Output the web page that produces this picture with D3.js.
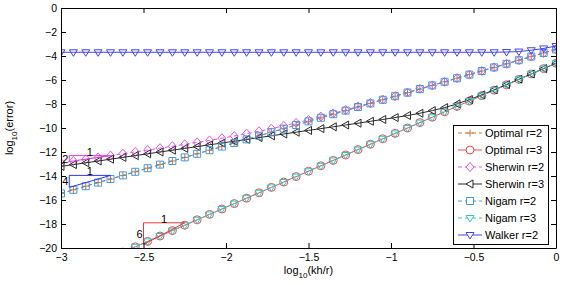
<!DOCTYPE html>
<html>
<head>
<meta charset="utf-8">
<script src="https://cdn.jsdelivr.net/npm/d3@7"></script>
<style>
  body { margin: 0; background: #fff; }
  svg { display: block; font-family: "Liberation Sans", Arial, sans-serif; }
</style>
</head>
<body>
<div id="chart"></div>
<script>
// Data (log10 scale)
const xValues = [-3, -2.925, -2.85, -2.775, -2.7, -2.625, -2.55, -2.475, -2.4, -2.325, -2.25, -2.175, -2.1, -2.025,
  -1.95, -1.875, -1.8, -1.725, -1.65, -1.575, -1.5, -1.425, -1.35, -1.275, -1.2, -1.125, -1.05, -0.975,
  -0.9, -0.825, -0.75, -0.675, -0.6, -0.525, -0.45, -0.375, -0.3, -0.225, -0.15, -0.075, 0];

const optimalR2 = [-15.45, -15.15, -14.85, -14.55, -14.25, -13.95, -13.65, -13.35, -13.05, -12.75, -12.45, -12.15,
  -11.85, -11.55, -11.25, -10.95, -10.65, -10.35, -10.05, -9.75, -9.45, -9.15, -8.85, -8.55, -8.25, -7.95,
  -7.65, -7.35, -7.05, -6.75, -6.45, -6.15, -5.85, -5.55, -5.25, -4.95, -4.65, -4.35, -4.05, -3.75, -3.45];

const optimalR3 = [-22.60, -22.15, -21.70, -21.25, -20.80, -20.35, -19.90, -19.45, -19.00, -18.55, -18.10, -17.65,
  -17.20, -16.75, -16.30, -15.85, -15.40, -14.95, -14.50, -14.05, -13.60, -13.15, -12.70, -12.25, -11.80, -11.35,
  -10.90, -10.45, -10.00, -9.55, -9.10, -8.65, -8.20, -7.75, -7.30, -6.85, -6.40, -5.95, -5.50, -5.05, -4.60];

const sherwinR2 = [-12.90, -12.75, -12.60, -12.45, -12.30, -12.14, -11.99, -11.84, -11.68, -11.52, -11.36, -11.20,
  -11.03, -10.85, -10.67, -10.47, -10.27, -10.05, -9.82, -9.57, -9.32, -9.05, -8.78, -8.50, -8.21, -7.92,
  -7.63, -7.34, -7.04, -6.74, -6.45, -6.15, -5.85, -5.55, -5.25, -4.95, -4.65, -4.35, -4.05, -3.75, -3.45];

const sherwinR3 = [-13.20, -13.05, -12.90, -12.75, -12.60, -12.45, -12.30, -12.15, -12.00, -11.85, -11.70, -11.55,
  -11.40, -11.25, -11.10, -10.95, -10.80, -10.65, -10.50, -10.35, -10.20, -10.05, -9.90, -9.75, -9.60, -9.44,
  -9.29, -9.13, -8.96, -8.77, -8.55, -8.30, -7.99, -7.63, -7.24, -6.82, -6.38, -5.94, -5.50, -5.05, -4.60];

const nigamR2 = [-15.45, -15.15, -14.85, -14.55, -14.25, -13.95, -13.65, -13.35, -13.05, -12.75, -12.45, -12.15,
  -11.85, -11.55, -11.25, -10.95, -10.65, -10.35, -10.05, -9.75, -9.45, -9.15, -8.85, -8.55, -8.25, -7.95,
  -7.65, -7.35, -7.05, -6.75, -6.45, -6.15, -5.85, -5.55, -5.25, -4.95, -4.65, -4.35, -4.05, -3.75, -3.45];

const nigamR3 = [-22.60, -22.15, -21.70, -21.25, -20.80, -20.35, -19.90, -19.45, -19.00, -18.55, -18.10, -17.65,
  -17.20, -16.75, -16.30, -15.85, -15.40, -14.95, -14.50, -14.05, -13.60, -13.15, -12.70, -12.25, -11.80, -11.35,
  -10.90, -10.45, -10.00, -9.55, -9.10, -8.65, -8.20, -7.75, -7.30, -6.85, -6.40, -5.95, -5.50, -5.05, -4.60];

const walkerR2 = [-3.69, -3.69, -3.69, -3.69, -3.69, -3.69, -3.69, -3.69, -3.69, -3.69, -3.69, -3.69,
  -3.69, -3.69, -3.69, -3.69, -3.69, -3.69, -3.69, -3.69, -3.69, -3.69, -3.69, -3.69, -3.69, -3.69,
  -3.69, -3.69, -3.69, -3.69, -3.69, -3.69, -3.69, -3.69, -3.69, -3.69, -3.67, -3.63, -3.52, -3.37, -3.17];

const xTicks = [-3, -2.5, -2, -1.5, -1, -0.5, 0];
const xTickLabels = ["\u22123", "\u22122.5", "\u22122", "\u22121.5", "\u22121", "\u22120.5", "0"];
const yTicks = [0, -2, -4, -6, -8, -10, -12, -14, -16, -18, -20];

// slope triangles: horizontal run x0..x1, vertical rise y0..y1, label of the rise
const slopeTriangles = [
  { x0: -2.95, x1: -2.7, y0: -12.8, y1: -12.3, rise: "2", color: "#e040e0" },
  { x0: -2.95, x1: -2.7, y0: -14.95, y1: -13.95, rise: "4", color: "#3434e8" },
  { x0: -2.5, x1: -2.25, y0: -19.7, y1: -17.9, rise: "6", color: "#e83838" }
];

const series = [
  { name: "Optimal r=2", values: optimalR2, color: "#cf7638", dash: "4,3", marker: "plus" },
  { name: "Optimal r=3", values: optimalR3, color: "#f04a4a", dash: null, marker: "circle" },
  { name: "Sherwin r=2", values: sherwinR2, color: "#e255e6", dash: "4,3", marker: "diamond" },
  { name: "Sherwin r=3", values: sherwinR3, color: "#2a2a2a", dash: null, marker: "triangleLeft" },
  { name: "Nigam r=2", values: nigamR2, color: "#4698dc", dash: "4,3", marker: "square" },
  { name: "Nigam r=3", values: nigamR3, color: "#38c4c4", dash: "4,3", marker: "triangleDown" },
  { name: "Walker r=2", values: walkerR2, color: "#4444f0", dash: null, marker: "triangleDown" }
];

function markerPath(type) {
  switch (type) {
    case "plus": return "M-3.5,0H3.5M0,-3.5V3.5";
    case "circle": return "M4,0A4,4 0 1,1 -4,0A4,4 0 1,1 4,0Z";
    case "diamond": return "M0,-4.5L4,0L0,4.5L-4,0Z";
    case "triangleLeft": return "M-4,0L3,-4L3,4Z";
    case "square": return "M-3.5,-3.5H3.5V3.5H-3.5Z";
    case "triangleDown": return "M-4,-2.5H4L0,4Z";
  }
}

const W = 566, H = 285;
const plotLeft = 61, plotRight = 556, plotTop = 8, plotBottom = 248;

const svg = d3.select("#chart").append("svg")
  .attr("width", W)
  .attr("height", H);

const x = d3.scaleLinear().domain([-3, 0]).range([plotLeft, plotRight]);
const y = d3.scaleLinear().domain([-20, 0]).range([plotBottom, plotTop]);

svg.append("defs").append("clipPath")
  .attr("id", "plot-clip")
  .append("rect")
  .attr("x", plotLeft).attr("y", plotTop)
  .attr("width", plotRight - plotLeft).attr("height", plotBottom - plotTop);

const plot = svg.append("g").attr("clip-path", "url(#plot-clip)");

const line = d3.line()
  .x((d, i) => x(xValues[i]))
  .y(d => y(d));

series.forEach(s => {
  plot.append("path")
    .datum(s.values)
    .attr("d", line)
    .attr("fill", "none")
    .attr("stroke", s.color)
    .attr("stroke-width", 1)
    .attr("stroke-dasharray", s.dash);

  plot.selectAll(null)
    .data(s.values)
    .enter().append("path")
    .attr("transform", (d, i) => `translate(${x(xValues[i])},${y(d)})`)
    .attr("d", markerPath(s.marker))
    .attr("fill", "none")
    .attr("stroke", s.color)
    .attr("stroke-width", 1);
});

// Slope triangles
slopeTriangles.forEach(t => {
  svg.append("path")
    .attr("d", `M${x(t.x0)},${y(t.y0)}L${x(t.x0)},${y(t.y1)}L${x(t.x1)},${y(t.y1)}Z`)
    .attr("fill", "none")
    .attr("stroke", t.color)
    .attr("stroke-width", 1);
  svg.append("text")
    .attr("x", (x(t.x0) + x(t.x1)) / 2)
    .attr("y", y(t.y1))
    .attr("text-anchor", "middle")
    .style("font-size", "11px")
    .text("1");
  svg.append("text")
    .attr("x", x(t.x0) - 1)
    .attr("y", (y(t.y0) + y(t.y1)) / 2)
    .attr("dy", "0.36em")
    .attr("text-anchor", "end")
    .style("font-size", "11px")
    .text(t.rise);
});

// Axes (ticks point inwards, box on)
function styleAxis(g) {
  g.selectAll(".domain, .tick line").attr("stroke", "#000");
  g.selectAll("text").style("font-size", "10.5px").attr("fill", "#000")
    .style("font-family", "'Liberation Sans', Arial, sans-serif");
}

svg.append("g")
  .attr("transform", `translate(0,${plotBottom})`)
  .call(d3.axisBottom(x).tickValues(xTicks).tickFormat((d, i) => xTickLabels[i])
    .tickSizeInner(-5).tickSizeOuter(0).tickPadding(6))
  .call(styleAxis);

svg.append("g")
  .attr("transform", `translate(0,${plotTop})`)
  .call(d3.axisTop(x).tickValues(xTicks).tickFormat("").tickSizeInner(-5).tickSizeOuter(0))
  .call(styleAxis);

svg.append("g")
  .attr("transform", `translate(${plotLeft},0)`)
  .call(d3.axisLeft(y).tickValues(yTicks).tickFormat(d => d === 0 ? "0" : "\u2212" + Math.abs(d))
    .tickSizeInner(-5).tickSizeOuter(0).tickPadding(4))
  .call(styleAxis);

svg.append("g")
  .attr("transform", `translate(${plotRight},0)`)
  .call(d3.axisRight(y).tickValues(yTicks).tickFormat("").tickSizeInner(-5).tickSizeOuter(0))
  .call(styleAxis);

// Axis titles
const xTitle = svg.append("text")
  .attr("x", (plotLeft + plotRight) / 2)
  .attr("y", 273.5)
  .attr("text-anchor", "middle")
  .style("font-size", "11px");
xTitle.append("tspan").text("log");
xTitle.append("tspan").attr("dy", 4).style("font-size", "8px").text("10");
xTitle.append("tspan").attr("dy", -4).text("(kh/r)");

const yTitle = svg.append("text")
  .attr("transform", `translate(12.5,${(plotTop + plotBottom) / 2}) rotate(-90)`)
  .attr("text-anchor", "middle")
  .style("font-size", "11px");
yTitle.append("tspan").text("log");
yTitle.append("tspan").attr("dy", 4).style("font-size", "8px").text("10");
yTitle.append("tspan").attr("dy", -4).text("(error)");

// Legend
const legend = svg.append("g");
legend.append("rect")
  .attr("x", 453.5).attr("y", 125.5)
  .attr("width", 95).attr("height", 119)
  .attr("fill", "#fff")
  .attr("stroke", "#000");

series.forEach((s, i) => {
  const ly = 133 + i * 17;
  legend.append("line")
    .attr("x1", 458).attr("x2", 482)
    .attr("y1", ly).attr("y2", ly)
    .attr("stroke", s.color)
    .attr("stroke-dasharray", s.dash);
  legend.append("path")
    .attr("transform", `translate(470,${ly})`)
    .attr("d", markerPath(s.marker))
    .attr("fill", "#fff")
    .attr("stroke", s.color);
  legend.append("text")
    .attr("x", 485).attr("y", ly)
    .attr("dy", "0.36em")
    .style("font-size", "11px")
    .text(s.name);
});
</script>
</body>
</html>
